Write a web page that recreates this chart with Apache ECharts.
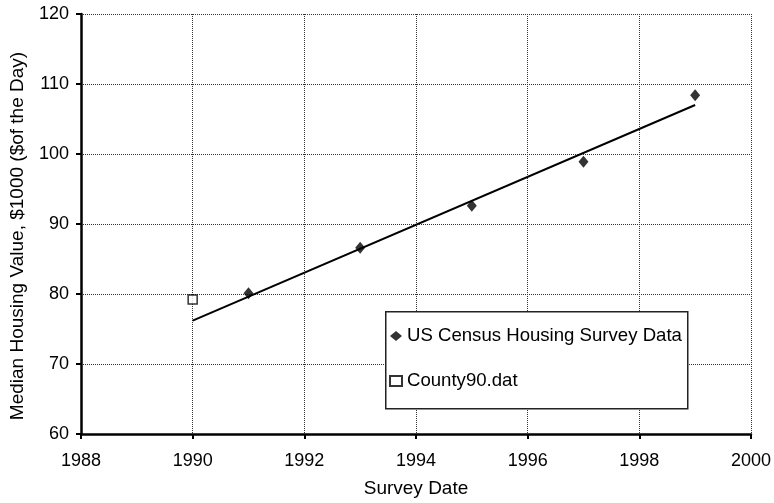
<!DOCTYPE html>
<html>
<head>
<meta charset="utf-8">
<script src="https://cdn.jsdelivr.net/npm/echarts@6/dist/echarts.min.js"></script>
<style>
  html, body { margin: 0; padding: 0; background: #fff; }
  #chart { width: 774px; height: 503px; }
</style>
</head>
<body>
<div id="chart"></div>
<script>
// Survey observations
const censusYears = [1991, 1993, 1995, 1997, 1999];
const censusValues = [80.1, 86.6, 92.6, 98.9, 108.4];
const countyYears = [1990];
const countyValues = [79.2];
// Linear trend through the census points, drawn 1990–1999
const trendYears = [1990, 1999];
const trendValues = [76.2, 107.0];

const FONT = '"Liberation Sans", Arial, sans-serif';

const chart = echarts.init(document.getElementById('chart'));
chart.setOption({
  animation: false,
  backgroundColor: '#fff',
  textStyle: { fontFamily: FONT, color: '#000' },
  grid: { left: 80, right: 22, top: 14, bottom: 69 },
  xAxis: {
    type: 'value', min: 1988, max: 2000, interval: 2,
    name: 'Survey Date', nameLocation: 'middle', nameGap: 45,
    nameTextStyle: { fontSize: 19, fontFamily: FONT, color: '#000' },
    axisLine: { show: true, lineStyle: { color: '#000', width: 2.5 } },
    axisTick: { show: true, length: 5, lineStyle: { color: '#000', width: 2 } },
    axisLabel: { fontSize: 18, fontFamily: FONT, color: '#000', margin: 18,
      formatter: v => String(v) },
    splitLine: { show: true, lineStyle: { color: '#333', width: 1, type: [1, 1] } }
  },
  yAxis: {
    type: 'value', min: 60, max: 120, interval: 10,
    name: 'Median Housing Value, $1000 ($of the Day)', nameLocation: 'middle', nameGap: 54,
    nameTextStyle: { fontSize: 19, fontFamily: FONT, color: '#000', padding: [0, 24, 0, 0] },
    axisLine: { show: true, lineStyle: { color: '#000', width: 2.5 } },
    axisTick: { show: true, length: 5, lineStyle: { color: '#000', width: 2 } },
    axisLabel: { fontSize: 18, fontFamily: FONT, color: '#000', margin: 12 },
    splitLine: { show: true, lineStyle: { color: '#333', width: 1, type: [1, 1] } }
  },
  graphic: [{
    type: 'rect', z: 50, left: 385, top: 311,
    shape: { width: 302, height: 97 },
    style: { fill: '#fff', stroke: '#222', lineWidth: 1.5 }
  }],
  legend: {
    z: 60, orient: 'vertical', left: 384, top: 321,
    itemWidth: 12, itemHeight: 10, itemGap: 25,
    data: ['US Census Housing Survey Data', 'County90.dat'],
    textStyle: { fontSize: 18.6, fontFamily: FONT, color: '#000', lineHeight: 20 }
  },
  series: [
    {
      name: 'Trend', type: 'line', z: 3,
      data: trendYears.map((x, i) => [x, trendValues[i]]),
      symbol: 'none', lineStyle: { color: '#000', width: 2 }
    },
    {
      name: 'US Census Housing Survey Data', type: 'scatter', z: 4,
      data: censusYears.map((x, i) => [x, censusValues[i]]),
      symbol: 'diamond', symbolSize: [10, 12],
      itemStyle: { color: '#000' }
    },
    {
      name: 'County90.dat', type: 'scatter', z: 4,
      data: countyYears.map((x, i) => [x, countyValues[i]]),
      symbol: 'rect', symbolSize: 9,
      itemStyle: { color: '#fff', borderColor: '#000', borderWidth: 1.5 }
    }
  ]
});
</script>
</body>
</html>
